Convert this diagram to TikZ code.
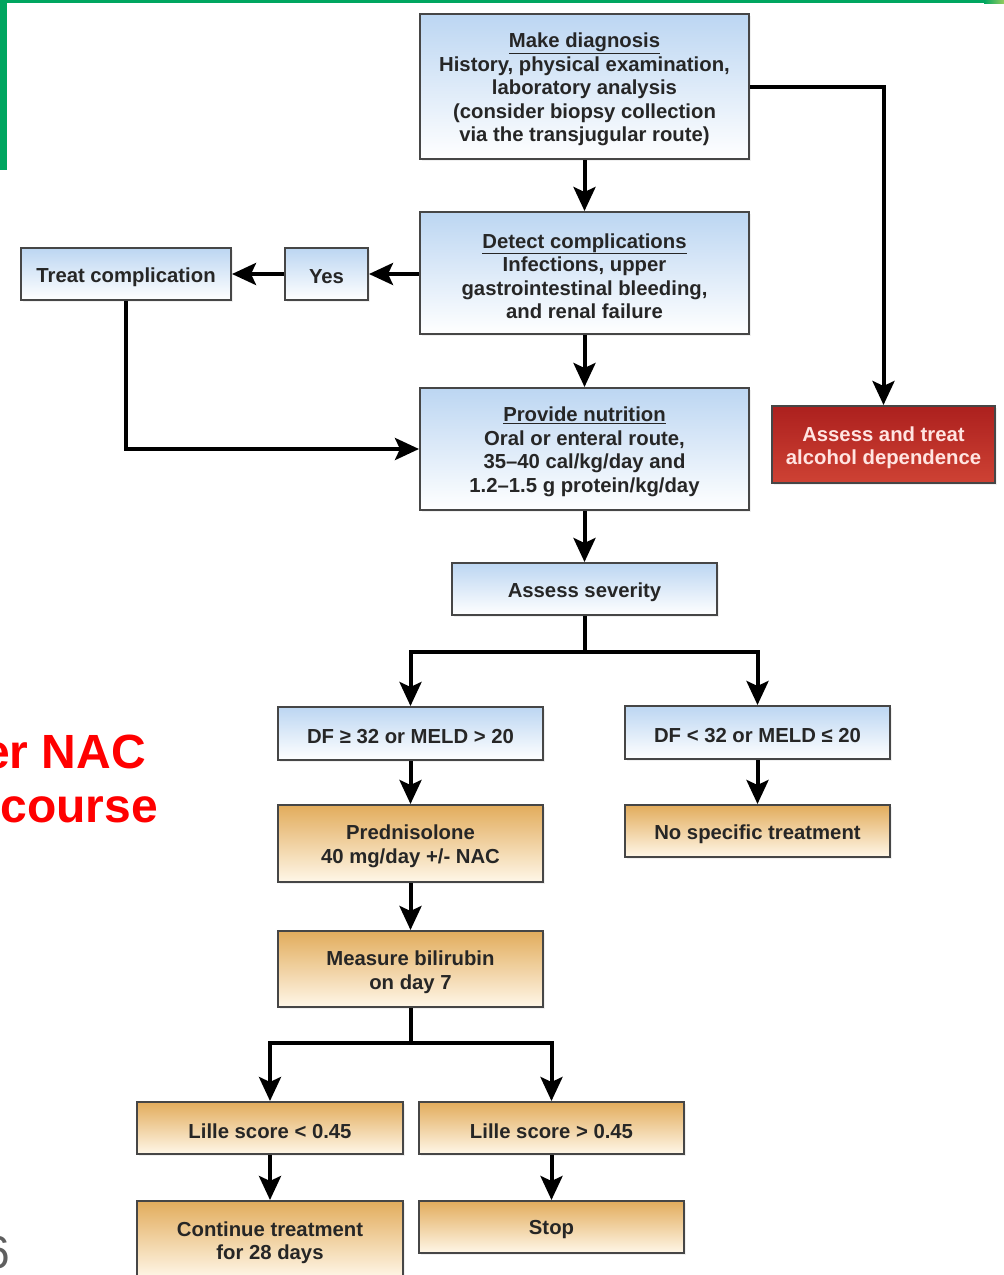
\documentclass[tikz,border=0pt]{standalone}
\usepackage{fontspec}
\setmainfont{Liberation Sans}
\usetikzlibrary{arrows.meta,shadows,calc}
\definecolor{gbar}{RGB}{0,166,96}
\definecolor{gbarlight}{RGB}{150,205,95}
\definecolor{bluetop}{RGB}{188,214,242}
\definecolor{orangetop}{RGB}{226,172,92}
\definecolor{orangebot}{RGB}{255,247,232}
\definecolor{redtop}{RGB}{172,32,30}
\definecolor{redbot}{RGB}{206,66,52}
\definecolor{boxline}{RGB}{70,70,70}
\definecolor{txt}{RGB}{38,38,38}
\definecolor{alctxt}{RGB}{255,228,225}
\definecolor{slidered}{RGB}{255,0,0}
\definecolor{pagenum}{RGB}{95,95,95}
\tikzset{
  basebox/.style={draw=boxline, line width=2pt, rectangle, inner sep=0pt,
    drop shadow={opacity=0.12, shadow xshift=2pt, shadow yshift=-2pt}},
  bluebox/.style={basebox, top color=bluetop, bottom color=white},
  orangebox/.style={basebox, top color=orangetop, bottom color=orangebot},
  redbox/.style={basebox, top color=redtop, bottom color=redbot},
  boxtext/.style={align=center, inner sep=0pt, text=txt, yshift=-3pt,
    font=\bfseries\fontsize{20.3}{23.5}\selectfont},
  alctext/.style={boxtext, text=alctxt},
  arr/.style={line width=4pt, draw=black, -{Stealth[length=24pt,width=22pt,inset=5pt]}},
  conn/.style={line width=4pt, draw=black},
}
\begin{document}
\begin{tikzpicture}[x=1pt,y=-1pt]
\useasboundingbox (0,0) rectangle (1004,1275);
\begin{scope}
\clip (0,0) rectangle (1004,1275);
% green slide decoration
\fill[gbar] (0,0) rectangle (984,3);
\shade[left color=gbar, right color=gbarlight] (984,0) rectangle (1004,3);
\fill[gbar] (0,0) rectangle (7,170);
% red slide text (clipped as in the reference)
\node[anchor=base east, inner sep=0pt, text=slidered, font=\bfseries\fontsize{48}{48}\selectfont] (red1) at (146,768) {er NAC};
\node[anchor=base east, inner sep=0pt, text=slidered, font=\bfseries\fontsize{48}{48}\selectfont] (red2) at (158,822) {course};
% page number (clipped as in the reference)
\node[anchor=base east, inner sep=0pt, text=pagenum, font=\fontsize{46}{46}\selectfont] (pnum) at (10,1268) {6};

% boxes
\node[bluebox, minimum width=329pt, minimum height=145pt] (diag) at (584.5,86.5) {};
\node[boxtext] (diagt) at (diag.center)
  {\underline{Make diagnosis}\\History, physical examination,\\laboratory analysis\\(consider biopsy collection\\via the transjugular route)};
\node[bluebox, minimum width=329pt, minimum height=122pt] (detect) at (584.5,273) {};
\node[boxtext] (detectt) at (detect.center)
  {\underline{Detect complications}\\Infections, upper\\gastrointestinal bleeding,\\and renal failure};
\node[bluebox, minimum width=83pt, minimum height=52pt] (yes) at (326.5,274) {};
\node[boxtext] (yest) at (yes.center) {Yes};
\node[bluebox, minimum width=210pt, minimum height=52pt] (treat) at (126,274) {};
\node[boxtext] (treatt) at (treat.center) {Treat complication};
\node[bluebox, minimum width=329pt, minimum height=122pt] (nutr) at (584.5,449) {};
\node[boxtext] (nutrt) at (nutr.center)
  {\underline{Provide nutrition}\\Oral or enteral route,\\35--40 cal/kg/day and\\1.2--1.5 g protein/kg/day};
\node[redbox, minimum width=223pt, minimum height=77pt] (alc) at (883.5,444.5) {};
\node[alctext] (alct) at (alc.center) {Assess and treat\\alcohol dependence};
\node[bluebox, minimum width=265pt, minimum height=52pt] (sev) at (584.5,589) {};
\node[boxtext] (sevt) at (sev.center) {Assess severity};
\node[bluebox, minimum width=265pt, minimum height=53pt] (dfh) at (410.5,733.5) {};
\node[boxtext] (dfht) at (dfh.center) {DF ≥ 32 or MELD > 20};
\node[bluebox, minimum width=265pt, minimum height=53pt] (dfl) at (757.5,732.5) {};
\node[boxtext] (dflt) at (dfl.center) {DF < 32 or MELD ≤ 20};
\node[orangebox, minimum width=265pt, minimum height=77pt] (pred) at (410.5,843.5) {};
\node[boxtext] (predt) at (pred.center) {Prednisolone\\40 mg/day +/- NAC};
\node[orangebox, minimum width=265pt, minimum height=52pt] (nos) at (757.5,831) {};
\node[boxtext] (nost) at (nos.center) {No specific treatment};
\node[orangebox, minimum width=265pt, minimum height=76pt] (meas) at (410.5,969) {};
\node[boxtext] (meast) at (meas.center) {Measure bilirubin\\on day 7};
\node[orangebox, minimum width=266pt, minimum height=52pt] (lil) at (270,1128) {};
\node[boxtext] (lilt) at (lil.center) {Lille score < 0.45};
\node[orangebox, minimum width=265pt, minimum height=52pt] (lih) at (551.5,1128) {};
\node[boxtext] (liht) at (lih.center) {Lille score > 0.45};
\node[orangebox, minimum width=266pt, minimum height=77pt] (cont) at (270,1239.5) {};
\node[boxtext] (contt) at (cont.center) {Continue treatment\\for 28 days};
\node[orangebox, minimum width=265pt, minimum height=52pt] (stop) at (551.5,1227) {};
\node[boxtext] (stopt) at (stop.center) {Stop};

% connectors
\draw[arr] (diag.south) -- (detect.north);
\draw[arr] (diag.east) -| (alc.north);
\draw[arr] (detect.west |- yes.east) -- (yes.east);
\draw[arr] (yes.west) -- (treat.east);
\draw[arr] (treat.south) |- (nutr.west);
\draw[arr] (detect.south) -- (nutr.north);
\draw[arr] (nutr.south) -- (sev.north);
\coordinate (sevsplit) at ($(sev.south)+(0,36)$);
\draw[conn] (sev.south) -- (sevsplit);
\draw[arr] (sevsplit) -| (dfh.north);
\draw[arr] (sevsplit) -| (dfl.north);
\draw[arr] (dfh.south) -- (pred.north);
\draw[arr] (dfl.south) -- (nos.north);
\draw[arr] (pred.south) -- (meas.north);
\coordinate (meassplit) at ($(meas.south)+(0,35)$);
\draw[conn] (meas.south) -- (meassplit);
\draw[arr] (meassplit) -| (lil.north);
\draw[arr] (meassplit) -| (lih.north);
\draw[arr] (lil.south) -- (cont.north);
\draw[arr] (lih.south) -- (stop.north);
\end{scope}
\end{tikzpicture}
\end{document}
